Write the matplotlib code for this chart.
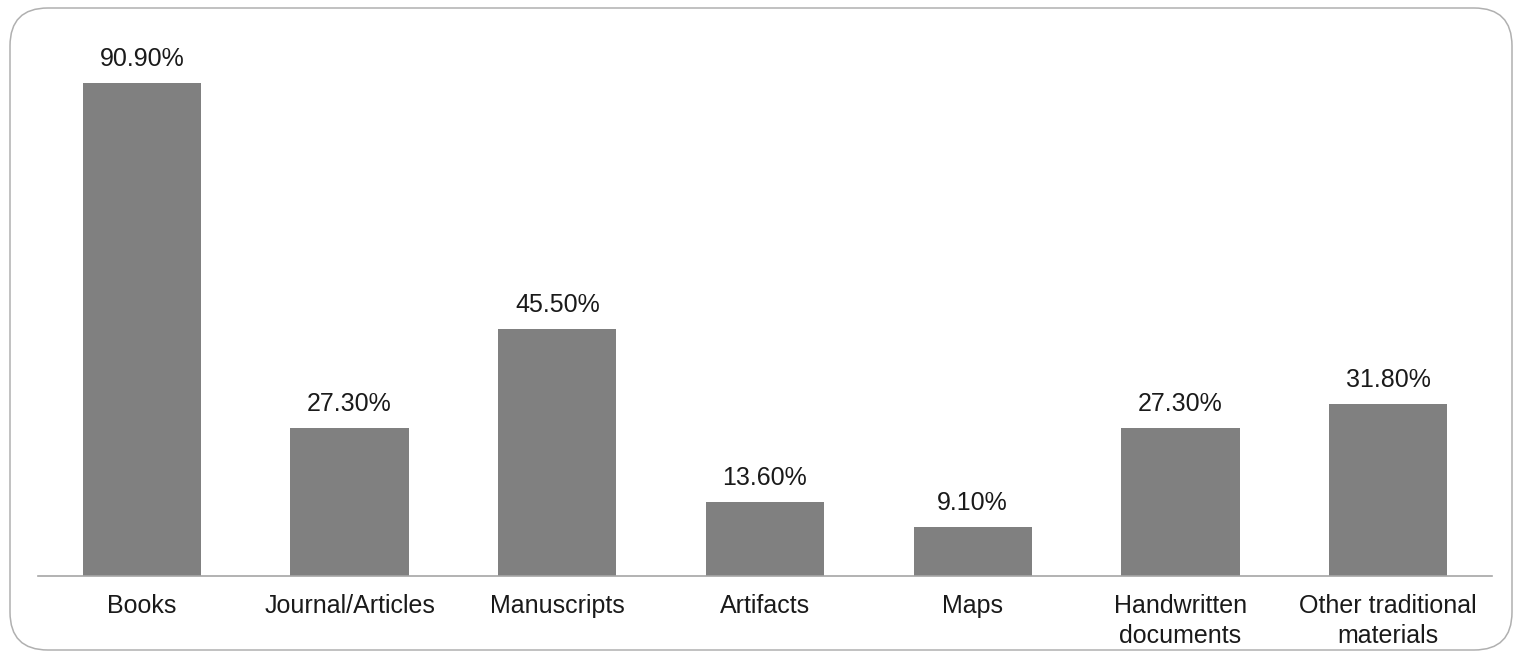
import matplotlib.pyplot as plt
from matplotlib.patches import FancyBboxPatch

# Dati
categories = ['Books', 'Journal/Articles', 'Manuscripts', 'Artifacts', 'Maps',
              'Handwritten\ndocuments', 'Other traditional\nmaterials']
values = [90.9, 27.3, 45.5, 13.6, 9.1, 27.3, 31.8]
value_labels = ['90.90%', '27.30%', '45.50%', '13.60%', '9.10%', '27.30%', '31.80%']

plt.rcParams['font.family'] = ['Liberation Sans', 'DejaVu Sans']

W, H = 1514, 653
fig = plt.figure(figsize=(W / 100, H / 100), dpi=100, facecolor='white')
ax = fig.add_axes([38 / W, (H - 576) / H, (1492 - 38) / W, (576 - 34) / H])

# Bordo arrotondato esterno
box = FancyBboxPatch((10 / W, 3 / H), (1502 / W), (642 / H),
                     boxstyle='round,pad=0,rounding_size=0.025',
                     transform=fig.transFigure, facecolor='none',
                     edgecolor='#b0b0b0', linewidth=1.1,
                     mutation_aspect=W / H)
fig.patches.append(box)

x = range(len(categories))
bars = ax.bar(x, values, width=0.57, color='#808080')

for xi, v, lab in zip(x, values, value_labels):
    ax.text(xi, v + 2.2, lab, ha='center', va='bottom', fontsize=18, color='#1a1a1a')

ax.set_xlim(-0.5, len(categories) - 0.5)
ax.set_ylim(0, 100)
ax.set_xticks(list(x))
ax.set_xticklabels(categories, fontsize=18, color='#1a1a1a', linespacing=1.3)
ax.tick_params(axis='x', length=0, pad=13)
ax.set_yticks([])

for s in ['top', 'right', 'left']:
    ax.spines[s].set_visible(False)
ax.spines['bottom'].set_color('#a6a6a6')
ax.spines['bottom'].set_linewidth(1.2)

plt.savefig('out.png', dpi=100, facecolor='white')
